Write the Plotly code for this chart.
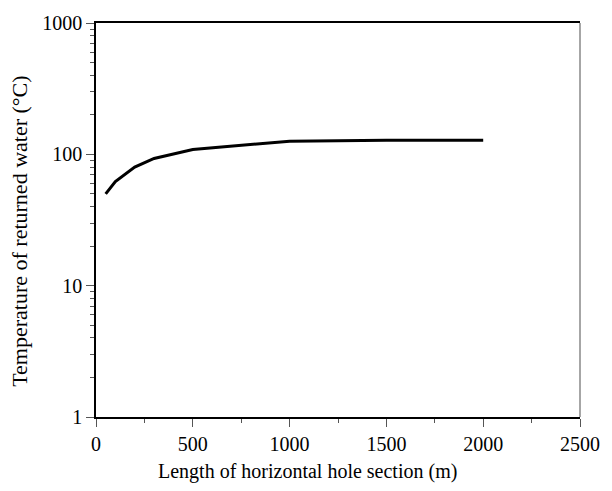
import plotly.graph_objects as go

length_m = [50, 100, 200, 300, 500, 1000, 1500, 2000]
temp_c = [50, 62, 80, 93, 109, 126, 128, 128]

x_ticks = [0, 500, 1000, 1500, 2000, 2500]
y_ticks = [1, 10, 100, 1000]

x_title = "Length of horizontal hole section (m)"
y_title = "Temperature of returned water (°C)"

font = "Liberation Serif, Times New Roman, serif"

fig = go.Figure()
fig.add_trace(go.Scatter(x=length_m, y=temp_c, mode="lines",
                         line=dict(color="black", width=3), showlegend=False))

fig.update_layout(
    width=612, height=491,
    margin=dict(l=96, r=23, t=19, b=74),
    paper_bgcolor="white", plot_bgcolor="white",
    font=dict(family=font, size=20, color="black"),
    xaxis=dict(
        range=[0, 2500], tickvals=x_ticks, ticktext=[str(v) for v in x_ticks],
        ticks="outside", ticklen=8, tickwidth=1, tickcolor="#555",
        minor=dict(tickvals=[250, 750, 1250, 1750, 2250], ticks="outside", ticklen=4, tickcolor="#555"),
        showline=True, linecolor="black", linewidth=1.5, mirror=True,
        showgrid=False, zeroline=False,
        tickfont=dict(size=20),
    ),
    yaxis=dict(
        type="log", range=[0, 3], tickvals=y_ticks, ticktext=[str(v) for v in y_ticks],
        ticks="outside", ticklen=8, tickwidth=1, tickcolor="#555",
        minor=dict(ticks="outside", ticklen=4, tickcolor="#555",
                   tickvals=[m * d for d in (1, 10, 100) for m in range(2, 10)]),
        showline=True, linecolor="black", linewidth=1.5,
        showgrid=False, zeroline=False,
        tickfont=dict(size=20),
    ),
    shapes=[dict(type="line", xref="paper", yref="paper", x0=1, x1=1, y0=0, y1=1,
                 line=dict(color="#888", width=1.5))],
    annotations=[
        dict(text=x_title, xref="paper", yref="paper", x=0.436, y=0,
             xanchor="center", yanchor="middle", yshift=-54, showarrow=False,
             font=dict(size=20)),
        dict(text=y_title, xref="paper", yref="paper", x=0, y=0.47,
             xanchor="center", yanchor="middle", xshift=-76, textangle=-90,
             showarrow=False, font=dict(size=22)),
    ],
)

fig.write_html("out.html")
